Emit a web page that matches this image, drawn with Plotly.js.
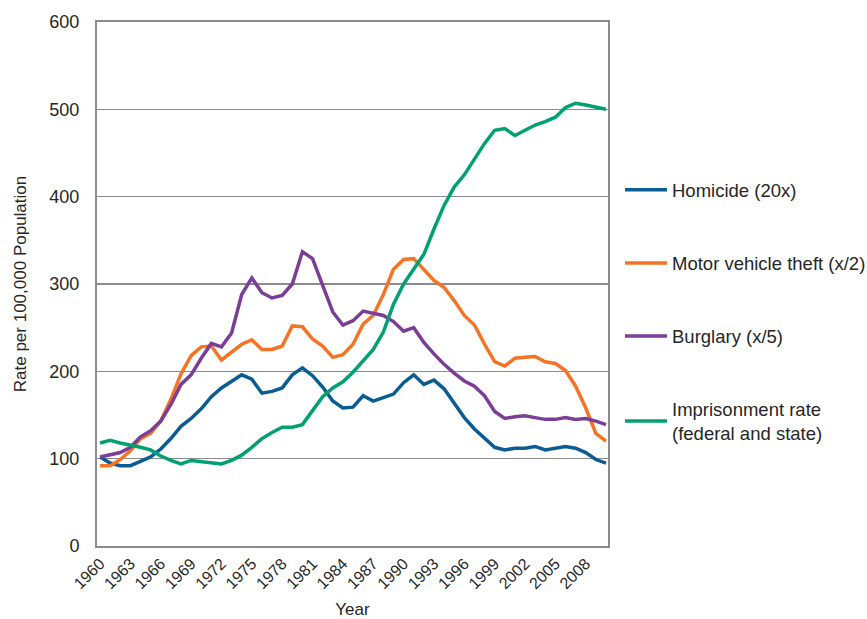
<!DOCTYPE html>
<html>
<head>
<meta charset="utf-8">
<script src="https://cdn.plot.ly/plotly-3.0.1.min.js"></script>
<style>html,body{margin:0;padding:0;background:#fff;}#chart{width:867px;height:619px;}</style>
</head>
<body>
<div id="chart"></div>
<script>
const years = [];
for (let y = 1960; y <= 2010; y++) years.push(y);

const homicide = [102,95,92,92,97,102,111,123,137,146,157,171,181,188,196,191,175,177,181,196,204,195,182,166,158,159,172,166,170,174,187,196,185,190,180,164,147,134,123,113,110,112,112,114,110,112,114,112,107,99,95];
const motorVehicle = [92,92,99,109,123,129,143,168,197,218,228,229,213,222,231,236,225,225,229,252,251,237,229,216,219,231,254,264,288,317,328,329,316,304,296,281,264,253,231,211,206,215,216,217,211,209,201,183,158,129,120];
const burglary = [102,104,107,113,125,132,143,162,185,196,215,232,228,244,288,307,290,284,287,300,337,329,298,268,253,258,269,267,264,257,246,250,233,220,208,198,189,183,172,154,146,148,149,147,145,145,147,145,146,143,139];
const imprisonment = [118,121,118,116,113,110,103,98,94,98,97,96,94,98,104,113,123,130,136,136,139,155,171,181,188,199,212,225,245,277,300,317,334,363,390,411,425,443,461,476,478,470,476,482,486,491,502,507,505,503,500];

const seriesNames = ['Homicide (20x)','Motor vehicle theft (x/2)','Burglary (x/5)','Imprisonment rate<br>(federal and state)'];
const seriesValues = [homicide, motorVehicle, burglary, imprisonment];
const seriesColors = ['#0C5C94','#F57325','#7A3E96','#00A072'];

const tickYears = [];
for (let y = 1960; y <= 2008; y += 3) tickYears.push(y);

const traces = seriesNames.map((n, i) => ({
  x: years, y: seriesValues[i], name: n, type: 'scatter', mode: 'lines',
  legendgroup: 'g' + i,
  line: {color: seriesColors[i], width: 3.5}
}));

const gray = '#8c8c8c';
const layout = {
  width: 867, height: 619,
  margin: {l: 97, r: 259, t: 22, b: 73, autoexpand: false},
  paper_bgcolor: '#fff', plot_bgcolor: '#fff',
  font: {family: 'Liberation Sans, Arial, sans-serif', size: 18, color: '#262626'},
  showlegend: true,
  legend: {x: 1.0235, xanchor: 'left', y: 0.715, yanchor: 'top', tracegroupgap: 46,
           itemwidth: 42,
           font: {size: 18.5, color: '#262626'}, bgcolor: 'rgba(0,0,0,0)'},
  xaxis: {
    range: [1959.7, 2010.2], tickvals: tickYears, ticktext: tickYears.map(String),
    tickangle: -45, showgrid: false, zeroline: false,
    showline: true, linecolor: gray, linewidth: 2, mirror: true,
    ticks: '', tickfont: {size: 16},
    title: {text: 'Year', font: {size: 17}, standoff: 14}
  },
  yaxis: {
    range: [0, 600], dtick: 100, showgrid: true, gridcolor: gray, gridwidth: 1.5,
    zeroline: false, showline: true, linecolor: gray, linewidth: 2, mirror: true,
    ticks: '', tickfont: {size: 18}, ticklabelstandoff: 12,
    title: {text: 'Rate per 100,000 Population', font: {size: 17}, standoff: 18}
  }
};

Plotly.newPlot('chart', traces, layout, {displayModeBar: false, staticPlot: true});
</script>
</body>
</html>
